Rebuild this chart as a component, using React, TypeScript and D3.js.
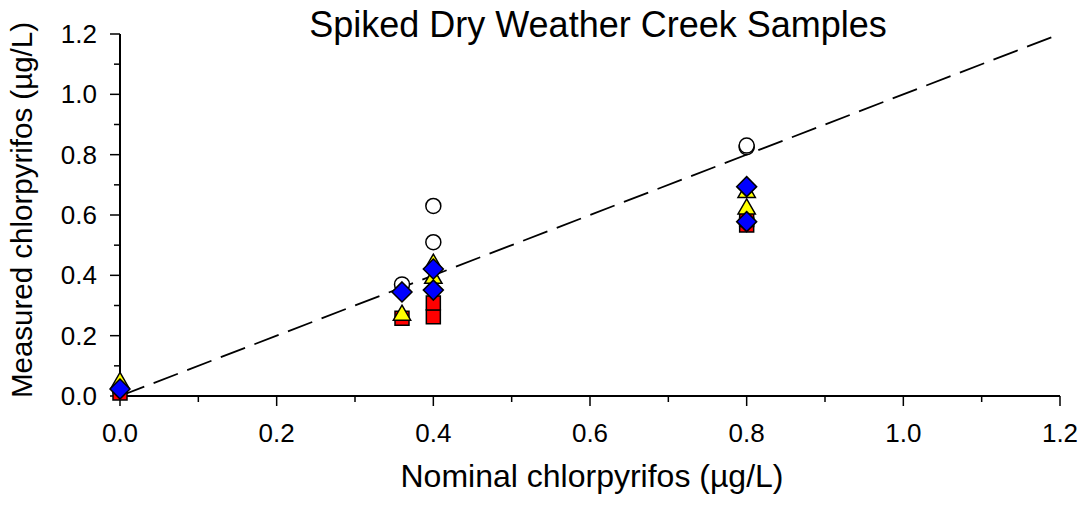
import React from "react";
import * as d3 from "d3";

const TITLE = "Spiked Dry Weather Creek Samples";
const X_LABEL = "Nominal chlorpyrifos (µg/L)";
const Y_LABEL = "Measured chlorpyrifos (µg/L)";

const majorTicks = [0, 0.2, 0.4, 0.6, 0.8, 1.0, 1.2];
const minorTicks = [0.1, 0.3, 0.5, 0.7, 0.9, 1.1];

// series: white circles
const circleX = [0, 0.36, 0.4, 0.4, 0.8, 0.8];
const circleY = [0.02, 0.37, 0.51, 0.63, 0.825, 0.83];
// red squares
const squareX = [0, 0.36, 0.4, 0.4, 0.8, 0.8];
const squareY = [0.01, 0.258, 0.263, 0.308, 0.567, 0.585];
// yellow triangles
const triX = [0, 0.36, 0.4, 0.4, 0.8, 0.8];
const triY = [0.045, 0.268, 0.39, 0.437, 0.62, 0.675];
// blue diamonds
const diaX = [0, 0.36, 0.4, 0.4, 0.8, 0.8];
const diaY = [0.023, 0.345, 0.351, 0.421, 0.578, 0.694];

const lineX = [0, 1.2];
const lineY = [0, 1.2];

const W = 1084;
const H = 505;
const X0 = 120, X1 = 1060, Y0 = 396, Y1 = 34;

export default function App() {
  const x = d3.scaleLinear().domain([0, 1.2]).range([X0, X1]);
  const y = d3.scaleLinear().domain([0, 1.2]).range([Y0, Y1]);
  const font = "'Liberation Sans', Arial, sans-serif";
  const line = d3.line<number>().x((d) => x(lineX[d])).y((d) => y(lineY[d]));
  const sym = (type: d3.SymbolType, size: number) => d3.symbol().type(type).size(size)()!;
  const circlePath = sym(d3.symbolCircle, Math.PI * 7.5 * 7.5);
  const squarePath = sym(d3.symbolSquare, 14 * 14);
  const triPath = sym(d3.symbolTriangle, 130);
  const diaPath = "M0,-10L10,0L0,10L-10,0Z";
  const fmt = d3.format(".1f");
  const stroke = { stroke: "#000", strokeWidth: 1.5 };

  return (
    <svg width={W} height={H} style={{ position: "absolute", left: 0, top: 0, background: "#fff" }}>
      <rect width={W} height={H} fill="#fff" />
      <text x={598} y={37} textAnchor="middle" fontFamily={font} fontSize={36} fill="#000">{TITLE}</text>
      {/* axes */}
      <line x1={X0} x2={X1} y1={Y0} y2={Y0} stroke="#000" strokeWidth={2} />
      <line x1={X0} x2={X0} y1={Y0} y2={Y1} stroke="#000" strokeWidth={2} />
      {majorTicks.map((t) => (
        <g key={"mx" + t}>
          <line x1={x(t)} x2={x(t)} y1={Y0} y2={Y0 + 10} stroke="#000" strokeWidth={1.5} />
          <text x={x(t)} y={442} textAnchor="middle" fontFamily={font} fontSize={26} fill="#000">{fmt(t)}</text>
          <line x1={X0 - 10} x2={X0} y1={y(t)} y2={y(t)} stroke="#000" strokeWidth={1.5} />
          <text x={97} y={y(t)} dy="0.35em" textAnchor="end" fontFamily={font} fontSize={26} fill="#000">{fmt(t)}</text>
        </g>
      ))}
      {minorTicks.map((t) => (
        <g key={"mn" + t}>
          <line x1={x(t)} x2={x(t)} y1={Y0} y2={Y0 + 6} stroke="#000" strokeWidth={1.5} />
          <line x1={X0 - 6} x2={X0} y1={y(t)} y2={y(t)} stroke="#000" strokeWidth={1.5} />
        </g>
      ))}
      <text x={592} y={487} textAnchor="middle" fontFamily={font} fontSize={32} fill="#000">{X_LABEL}</text>
      <text transform={`translate(32,210) rotate(-90)`} textAnchor="middle" fontFamily={font} fontSize={29.5} fill="#000">{Y_LABEL}</text>
      {/* 1:1 line */}
      <path d={line([0, 1])!} fill="none" stroke="#000" strokeWidth={1.8} strokeDasharray="26,10" />
      {/* markers */}
      {circleX.map((v, i) => (
        <path key={"c" + i} d={circlePath} transform={`translate(${x(v)},${y(circleY[i])})`} fill="#fff" {...stroke} />
      ))}
      {squareX.map((v, i) => (
        <path key={"s" + i} d={squarePath} transform={`translate(${x(v)},${y(squareY[i])})`} fill="#ff0000" {...stroke} />
      ))}
      {triX.map((v, i) => (
        <path key={"t" + i} d={triPath} transform={`translate(${x(v)},${y(triY[i])})`} fill="#ffff00" {...stroke} />
      ))}
      {diaX.map((v, i) => (
        <path key={"d" + i} d={diaPath} transform={`translate(${x(v)},${y(diaY[i])})`} fill="#0000ff" {...stroke} />
      ))}
    </svg>
  );
}
